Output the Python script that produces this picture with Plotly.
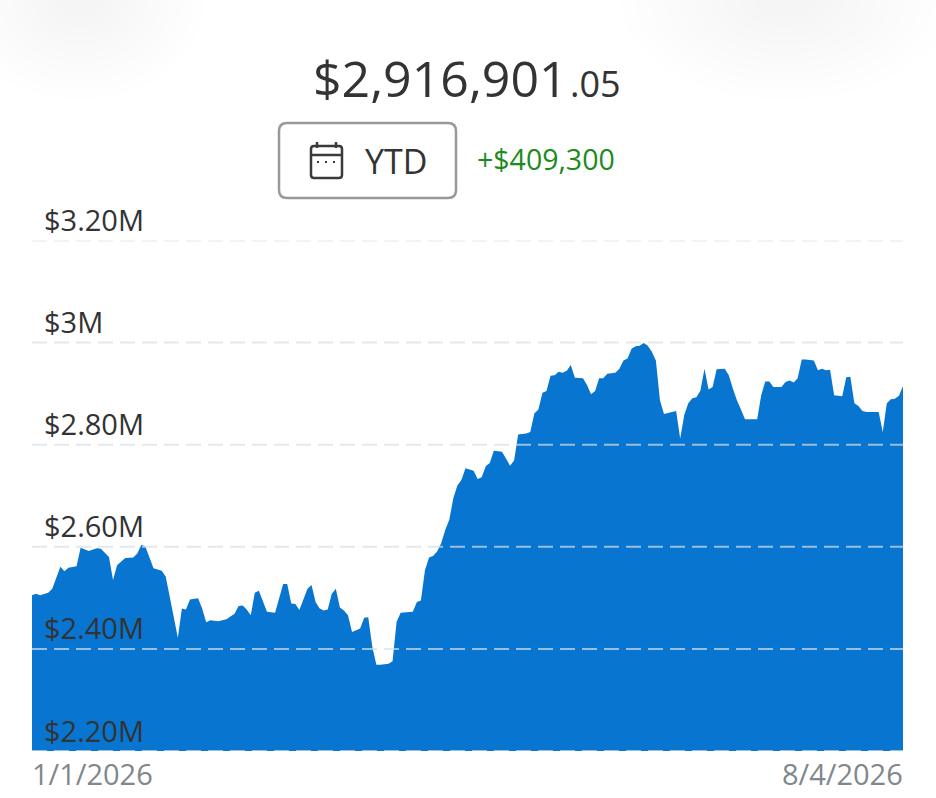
"""
Portfolio value, year to date, drawn as a filled area
"""

import pandas as pd
import plotly.graph_objects as go

WIDTH = 936
HEIGHT = 798
FONT = "Open Sans"

START_DATE = "2026-01-01"
LAST_DATE = "2026-08-04"

# days since January 1 and the balance in millions
DAYS = [
    0, 1, 2, 4, 5, 7, 8, 9, 11, 12, 14, 16, 17, 19, 20, 21, 23, 25, 26, 27,
    28, 30, 32, 33, 34, 35, 36, 37, 38, 39, 41, 42, 43, 44, 46, 48, 50, 51,
    52, 53, 54, 55, 56, 58, 60, 62, 63, 64, 65, 66, 68, 69, 70, 71, 72, 73,
    74, 75, 76, 77, 78, 79, 81, 82, 83, 84, 85, 86, 88, 89, 90, 91, 94, 95,
    96, 97, 98, 99, 100, 101, 102, 103, 104, 105, 106, 107, 109, 110, 111,
    112, 113, 114, 116, 117, 118, 119, 120, 122, 123, 124, 125, 126, 127,
    128, 129, 130, 131, 132, 133, 134, 136, 137, 138, 139, 140, 141, 142,
    144, 145, 146, 147, 148, 149, 150, 151, 152, 153, 154, 155, 156, 157,
    159, 160, 161, 162, 163, 164, 165, 166, 167, 168, 169, 171, 172, 173,
    174, 175, 176, 179, 180, 181, 182, 183, 185, 186, 187, 188, 189, 190,
    191, 193, 194, 195, 196, 197, 198, 200, 201, 202, 203, 204, 205, 206,
    209, 210, 211, 212, 213, 214, 215,
]
BALANCE = [
    2.505, 2.508, 2.505, 2.510, 2.518, 2.561, 2.552, 2.559, 2.562, 2.598,
    2.592, 2.597, 2.596, 2.580, 2.535, 2.564, 2.578, 2.579, 2.587, 2.604,
    2.600, 2.558, 2.553, 2.542, 2.502, 2.463, 2.422, 2.479, 2.477, 2.497,
    2.499, 2.479, 2.452, 2.456, 2.454, 2.458, 2.469, 2.484, 2.485, 2.477,
    2.466, 2.510, 2.514, 2.473, 2.471, 2.527, 2.527, 2.489, 2.488, 2.476,
    2.518, 2.525, 2.492, 2.479, 2.475, 2.477, 2.508, 2.518, 2.481, 2.475,
    2.466, 2.433, 2.440, 2.461, 2.462, 2.404, 2.369, 2.369, 2.371, 2.376,
    2.453, 2.471, 2.473, 2.492, 2.495, 2.554, 2.579, 2.582, 2.591, 2.607,
    2.633, 2.653, 2.695, 2.720, 2.731, 2.754, 2.749, 2.733, 2.736, 2.758,
    2.764, 2.788, 2.786, 2.773, 2.759, 2.769, 2.820, 2.822, 2.825, 2.861,
    2.869, 2.902, 2.905, 2.935, 2.936, 2.943, 2.941, 2.945, 2.956, 2.931,
    2.930, 2.917, 2.899, 2.905, 2.930, 2.930, 2.939, 2.941, 2.949, 2.965,
    2.969, 2.988, 2.993, 2.994, 2.999, 2.994, 2.982, 2.965, 2.887, 2.860,
    2.862, 2.866, 2.812, 2.858, 2.881, 2.891, 2.893, 2.906, 2.949, 2.908,
    2.913, 2.948, 2.949, 2.936, 2.910, 2.887, 2.869, 2.850, 2.850, 2.897,
    2.924, 2.924, 2.913, 2.913, 2.923, 2.926, 2.922, 2.930, 2.967, 2.967,
    2.965, 2.946, 2.949, 2.946, 2.947, 2.897, 2.895, 2.932, 2.933, 2.881,
    2.876, 2.866, 2.864, 2.864, 2.825, 2.881, 2.889, 2.890, 2.896, 2.915,
]

TICK_VALUES = [2.2, 2.4, 2.6, 2.8, 3.0, 3.2]
TICK_LABELS = ["$2.20M", "$2.40M", "$2.60M", "$2.80M", "$3M", "$3.20M"]


def px(x):
    """ Pixel column to paper x """
    return x / WIDTH


def py(y):
    """ Pixel row to paper y """
    return 1 - y / HEIGHT


def label(text, x, y, size, color="#333333", anchor="left"):
    """ Text placed by pixel position, centred on y """
    return dict(
        text=text,
        x=px(x),
        y=py(y),
        xref="paper",
        yref="paper",
        xanchor=anchor,
        yanchor="middle",
        showarrow=False,
        font=dict(family=FONT, size=size, color=color),
    )


def rounded_box(x0, y0, x1, y1, r):
    """ SVG path of a rounded rectangle, in paper units """
    rx, ry = r / WIDTH, r / HEIGHT
    a, b = px(x0), py(y0)
    c, d = px(x1), py(y1)
    return (
        f"M{a + rx},{b} L{c - rx},{b} Q{c},{b} {c},{b - ry} "
        f"L{c},{d + ry} Q{c},{d} {c - rx},{d} "
        f"L{a + rx},{d} Q{a},{d} {a},{d + ry} "
        f"L{a},{b - ry} Q{a},{b} {a + rx},{b} Z"
    )


def paper_shape(**kwargs):
    return dict(xref="paper", yref="paper", **kwargs)


def segment(x0, y0, x1, y1, color="#3a3a3a", width=2.5):
    return paper_shape(
        type="line",
        x0=px(x0),
        y0=py(y0),
        x1=px(x1),
        y1=py(y1),
        line=dict(color=color, width=width),
    )


def calendar_icon():
    """ The little calendar inside the YTD button """
    shapes = [
        paper_shape(
            type="path",
            path=rounded_box(311, 146, 342, 178, 3),
            line=dict(color="#3a3a3a", width=2.5),
        ),
        segment(311, 155, 342, 155),
        segment(317, 142, 317, 148),
        segment(336, 142, 336, 148),
    ]
    for x in [318, 326, 334]:
        shapes.append(segment(x - 1, 162, x + 1, 162, width=2))
    return shapes


def corner_shadow(center, half_width, depth):
    """ Soft grey glow hanging from the top edge, built from stacked ellipses """
    shapes = []
    for step in range(10):
        scale = 1 - step * 0.09
        shapes.append(
            paper_shape(
                type="circle",
                layer="below",
                x0=px(center - half_width * scale),
                x1=px(center + half_width * scale),
                y0=py(depth * scale),
                y1=py(-depth * scale),
                fillcolor="rgba(0,0,0,0.004)",
                line=dict(width=0),
            )
        )
    return shapes


def main():
    dates = pd.Timestamp(START_DATE) + pd.to_timedelta(DAYS, unit="D")

    fig = go.Figure()
    fig.add_trace(
        go.Scatter(
            x=dates,
            y=[v * 1e6 for v in BALANCE],
            mode="lines",
            fill="tozeroy",
            fillcolor="#0875d0",
            line=dict(color="#0875d0", width=0),
            hoverinfo="skip",
        )
    )

    shapes = corner_shadow(80, 125, 100) + corner_shadow(785, 165, 100)
    shapes.append(
        paper_shape(
            type="path",
            path=rounded_box(279, 123, 456, 198, 8),
            line=dict(color="#999999", width=2.5),
        )
    )
    shapes += calendar_icon()
    annotations = [
        label("$2,916,901", 310.5, 78, 50),
        label(".05", 568, 83, 36),
        label("YTD", 363, 161, 34),
        label("+$409,300", 475, 159, 28.5, color="#1c8a1c"),
        label("1/1/2026", 30, 773, 29, color="#80878d"),
        label("8/4/2026", 905, 773, 29, color="#80878d", anchor="right"),
    ]

    # grid goes over the area, tick text sits just above each line
    for value, text in zip(TICK_VALUES, TICK_LABELS):
        shapes.append(
            dict(
                type="line",
                xref="paper",
                yref="y",
                x0=px(32),
                x1=px(903),
                y0=value * 1e6,
                y1=value * 1e6,
                layer="above",
                line=dict(color="rgba(215,222,230,0.7)", width=2, dash="15px,7px"),
            )
        )
        annotations.append(
            dict(
                text=text,
                x=px(42),
                y=value * 1e6,
                xref="paper",
                yref="y",
                xanchor="left",
                yanchor="middle",
                yshift=21,
                showarrow=False,
                font=dict(family=FONT, size=29, color="#333333"),
            )
        )

    fig.update_layout(
        width=WIDTH,
        height=HEIGHT,
        margin=dict(l=0, r=0, t=0, b=0),
        paper_bgcolor="white",
        plot_bgcolor="rgba(0,0,0,0)",
        showlegend=False,
        shapes=shapes,
        annotations=annotations,
        xaxis=dict(
            domain=[px(32), px(903)],
            range=[START_DATE, LAST_DATE],
            showgrid=False,
            zeroline=False,
            showticklabels=False,
        ),
        yaxis=dict(
            domain=[py(751), py(240.5)],
            range=[TICK_VALUES[0] * 1e6, TICK_VALUES[-1] * 1e6],
            showgrid=False,
            zeroline=False,
            showticklabels=False,
        ),
    )
    # the page's default body margin would push the figure 8px off
    fig.write_html(
        "out.html",
        post_script="document.body.style.margin = '0';",
        config=dict(displayModeBar=False),
    )


if __name__ == "__main__":
    main()
